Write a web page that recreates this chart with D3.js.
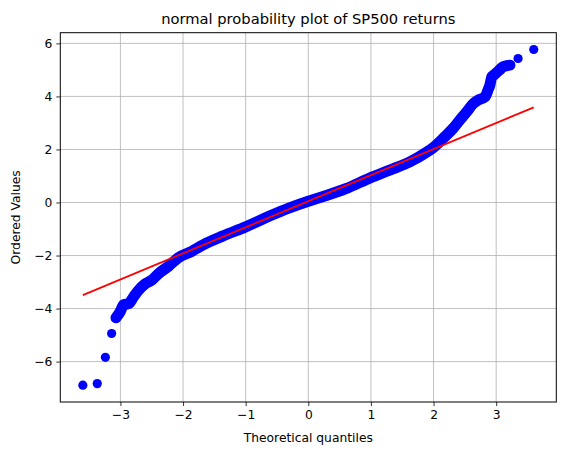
<!DOCTYPE html>
<html>
<head>
<meta charset="utf-8">
<script src="https://cdn.jsdelivr.net/npm/d3@7"></script>
<style>
  body { margin: 0; background: #fff; }
  text { font-family: "DejaVu Sans", sans-serif; fill: #000; }
</style>
</head>
<body>
<div id="qq"></div>
<script>
// dense part of the plot: the markers overlap into one band
var bandX = [-3.07, -3.00, -2.95, -2.87, -2.79, -2.71, -2.61, -2.50, -2.39, -2.23, -2.07,
  -1.86, -1.68, -1.36, -1.00, -0.61, -0.30, 0.00, 0.30, 0.60, 0.98, 1.30, 1.62,
  1.89, 2.00, 2.18, 2.31, 2.42, 2.53, 2.63, 2.71, 2.82, 2.87, 2.90, 2.93, 2.96,
  3.05, 3.11, 3.22];
var bandY = [-4.35, -4.10, -3.86, -3.82, -3.56, -3.31, -3.08, -2.93, -2.68, -2.40, -2.07,
  -1.84, -1.60, -1.26, -0.92, -0.50, -0.20, 0.05, 0.27, 0.52, 0.92, 1.22, 1.53,
  1.90, 2.08, 2.48, 2.79, 3.11, 3.42, 3.72, 3.86, 3.98, 4.24, 4.43, 4.74, 4.80,
  4.99, 5.12, 5.18];

// isolated points in the tails
var tailX = [-3.60, -3.37, -3.24, -3.14, 3.35, 3.60];
var tailY = [-6.89, -6.83, -5.84, -4.94, 5.43, 5.77];

// least squares line
var fitX = [-3.60, 3.60];
var fitY = [-3.49, 3.59];

var xTicks = [-3, -2, -1, 0, 1, 2, 3];
var yTicks = [-6, -4, -2, 0, 2, 4, 6];

var W = 565, H = 455;
var margin = { top: 32.7, right: 8.7, bottom: 53, left: 60.3 },
  width = W - margin.left - margin.right,
  height = H - margin.top - margin.bottom;

var allX = bandX.concat(tailX), allY = bandY.concat(tailY);
var xExt = d3.extent(allX), yExt = d3.extent(allY);
var xPad = (xExt[1] - xExt[0]) * 0.05, yPad = (yExt[1] - yExt[0]) * 0.05;

var x = d3.scaleLinear().domain([xExt[0] - xPad, xExt[1] + xPad]).range([0, width]);
var y = d3.scaleLinear().domain([yExt[0] - yPad, yExt[1] + yPad]).range([height, 0]);

var svg = d3.select("#qq")
  .append("svg")
  .attr("width", W)
  .attr("height", H)
  .append("g")
  .attr("transform", "translate(" + margin.left + "," + margin.top + ")");

// grid
svg.append("g")
  .selectAll("line")
  .data(xTicks).enter().append("line")
  .attr("x1", function (d) { return x(d); })
  .attr("x2", function (d) { return x(d); })
  .attr("y1", 0).attr("y2", height)
  .style("stroke", "#b0b0b0").style("stroke-width", 0.8);
svg.append("g")
  .selectAll("line")
  .data(yTicks).enter().append("line")
  .attr("y1", function (d) { return y(d); })
  .attr("y2", function (d) { return y(d); })
  .attr("x1", 0).attr("x2", width)
  .style("stroke", "#b0b0b0").style("stroke-width", 0.8);

// axes
var xAxis = svg.append("g")
  .attr("transform", "translate(0," + height + ")")
  .call(d3.axisBottom(x).tickValues(xTicks).tickSize(4).tickPadding(4).tickFormat(d3.format("d")));
var yAxis = svg.append("g")
  .call(d3.axisLeft(y).tickValues(yTicks).tickSize(4).tickPadding(4).tickFormat(d3.format("d")));

[xAxis, yAxis].forEach(function (a) {
  a.select(".domain").remove();
  a.selectAll("text").style("font-size", "12.3px").style("font-family", "DejaVu Sans");
  a.selectAll("line").style("stroke-width", 0.8);
});

// dense band of markers
var band = bandX.map(function (d, i) { return [d, bandY[i]]; });
svg.append("path")
  .datum(band)
  .attr("d", d3.line()
    .x(function (d) { return x(d[0]); })
    .y(function (d) { return y(d[1]); })
    .curve(d3.curveMonotoneX))
  .style("fill", "none")
  .style("stroke", "#0000ff")
  .style("stroke-width", 11)
  .style("stroke-linecap", "round")
  .style("stroke-linejoin", "round");

var pts = band.concat(tailX.map(function (d, i) { return [d, tailY[i]]; }));
svg.append("g")
  .selectAll("circle")
  .data(pts).enter().append("circle")
  .attr("cx", function (d) { return x(d[0]); })
  .attr("cy", function (d) { return y(d[1]); })
  .attr("r", 4.6)
  .style("fill", "#0000ff");

// fit line
svg.append("line")
  .attr("x1", x(fitX[0])).attr("y1", y(fitY[0]))
  .attr("x2", x(fitX[1])).attr("y2", y(fitY[1]))
  .style("stroke", "#ff0000")
  .style("stroke-width", 1.8);

// frame
svg.append("rect")
  .attr("width", width).attr("height", height)
  .style("fill", "none").style("stroke", "#000").style("stroke-width", 1);

// labels
svg.append("text")
  .attr("x", width / 2).attr("y", -9)
  .attr("text-anchor", "middle")
  .style("font-size", "14.7px")
  .text("normal probability plot of SP500 returns");

svg.append("text")
  .attr("x", width / 2).attr("y", height + 40)
  .attr("text-anchor", "middle")
  .style("font-size", "12.3px")
  .text("Theoretical quantiles");

svg.append("text")
  .attr("transform", "translate(" + (-40) + "," + (height / 2) + ") rotate(-90)")
  .attr("text-anchor", "middle")
  .style("font-size", "12.3px")
  .text("Ordered Values");
</script>
</body>
</html>
